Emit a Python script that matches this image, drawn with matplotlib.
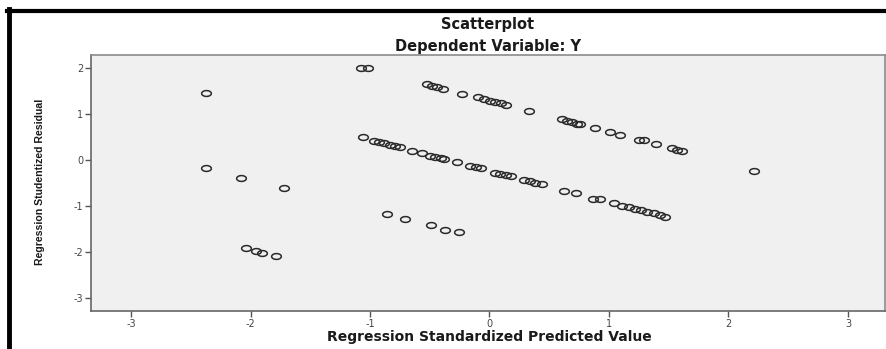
import numpy as np
import matplotlib
matplotlib.use("Agg")
import matplotlib.pyplot as plt
from matplotlib.lines import Line2D

plt.rcParams['axes.unicode_minus'] = False

# Regression standardized predicted value (x) and studentized residual (y)
pred_top = [-1.074, -1.018, -0.527, -0.48, -0.438, -0.387, -0.229,
            -0.095, -0.047, 0.003, 0.05, 0.098, 0.142, 0.33,
            0.608, 0.65, 0.692, 0.734, 0.761, 0.887, 1.007, 1.09,
            1.25, 1.29, 1.39, 1.53, 1.57, 1.61]
resid_top = [2.0, 2.0, 1.66, 1.60, 1.58, 1.55, 1.43,
             1.36, 1.33, 1.29, 1.26, 1.23, 1.20, 1.07,
             0.89, 0.855, 0.82, 0.79, 0.775, 0.69, 0.615, 0.54,
             0.44, 0.43, 0.35, 0.25, 0.22, 0.20]

pred_mid = [-1.06, -0.968, -0.926, -0.884, -0.834, -0.787, -0.745, -0.647,
            -0.563, -0.494, -0.452, -0.41, -0.38, -0.27, -0.159, -0.117,
            -0.075, 0.05, 0.092, 0.134, 0.176, 0.287, 0.343, 0.385, 0.441,
            0.622, 0.728, 0.868, 0.923, 1.04, 1.11, 1.166, 1.22, 1.264,
            1.32, 1.375, 1.425, 1.473]
resid_mid = [0.49, 0.41, 0.39, 0.37, 0.33, 0.30, 0.28, 0.20,
             0.145, 0.09, 0.065, 0.04, 0.03, -0.05, -0.12, -0.16,
             -0.18, -0.29, -0.31, -0.33, -0.34, -0.435, -0.46, -0.49, -0.53,
             -0.67, -0.72, -0.855, -0.855, -0.935, -0.99, -1.03, -1.065, -1.09,
             -1.12, -1.15, -1.19, -1.23]

pred_low = [-0.856, -0.709, -0.49, -0.374, -0.257]
resid_low = [-1.17, -1.28, -1.41, -1.51, -1.57]

pred_out = [-2.37, -2.37, -2.08, -1.72, -2.04, -1.95, -1.90, -1.785, 2.215]
resid_out = [1.46, -0.17, -0.39, -0.60, -1.92, -1.98, -2.01, -2.09, -0.23]

x_ticks = [-3, -2, -1, 0, 1, 2, 3]
y_ticks = [-3, -2, -1, 0, 1, 2]

pred = pred_top + pred_mid + pred_low + pred_out
resid = resid_top + resid_mid + resid_low + resid_out

# flattened ellipse marker, like the SPSS output
t = np.linspace(0, 2 * np.pi, 40)
ellipse = list(zip(np.cos(t), 0.6 * np.sin(t)))

fig = plt.figure(figsize=(8.87, 3.49), dpi=100)
ax = fig.add_axes([91 / 887, 38 / 349, 794 / 887, 256 / 349])
ax.set_facecolor('#f0f0f0')

ax.plot(pred, resid, linestyle='none', marker=ellipse, markersize=7,
        markerfacecolor='none', markeredgecolor='#2a2a2a', markeredgewidth=1.1)

ax.set_xlim(-3.335, 3.31)
ax.set_ylim(-3.28, 2.28)
ax.set_xticks(x_ticks)
ax.set_yticks(y_ticks)
ax.tick_params(axis='both', direction='out', length=4, width=1, color='#555555',
               labelsize=7, labelcolor='#444444', pad=1.5)

for side, sp in ax.spines.items():
    sp.set_color('#8a8a8a')
    sp.set_linewidth(1.2)
ax.spines['left'].set_color('#666666')
ax.spines['bottom'].set_color('#666666')

cx = (91 + 885) / 2 / 887
fig.text(cx, 1 - 25 / 349, 'Scatterplot', ha='center', va='center',
         fontsize=10.5, fontweight='bold', color='#1a1a1a')
fig.text(cx, 1 - 47 / 349, 'Dependent Variable: Y', ha='center', va='center',
         fontsize=10.5, fontweight='bold', color='#1a1a1a')
fig.text(489 / 887, 1 - 337 / 349, 'Regression Standardized Predicted Value',
         ha='center', va='center', fontsize=10, fontweight='bold', color='#1a1a1a')
fig.text(40 / 887, 1 - 182 / 349, 'Regression Studentized Residual',
         ha='center', va='center', rotation=90, fontsize=7.6, fontweight='bold',
         family=['Liberation Sans Narrow', 'Liberation Sans', 'DejaVu Sans'],
         fontstretch='condensed', color='#1a1a1a')

# black frame lines at top and left of the screenshot
fig.add_artist(Line2D([7 / 887, 1], [1 - 10.5 / 349] * 2, color='black', lw=3,
                      transform=fig.transFigure))
fig.add_artist(Line2D([9.5 / 887] * 2, [0, 1 - 9 / 349], color='black', lw=3.5,
                      transform=fig.transFigure))

fig.savefig('out.png', dpi=100)
